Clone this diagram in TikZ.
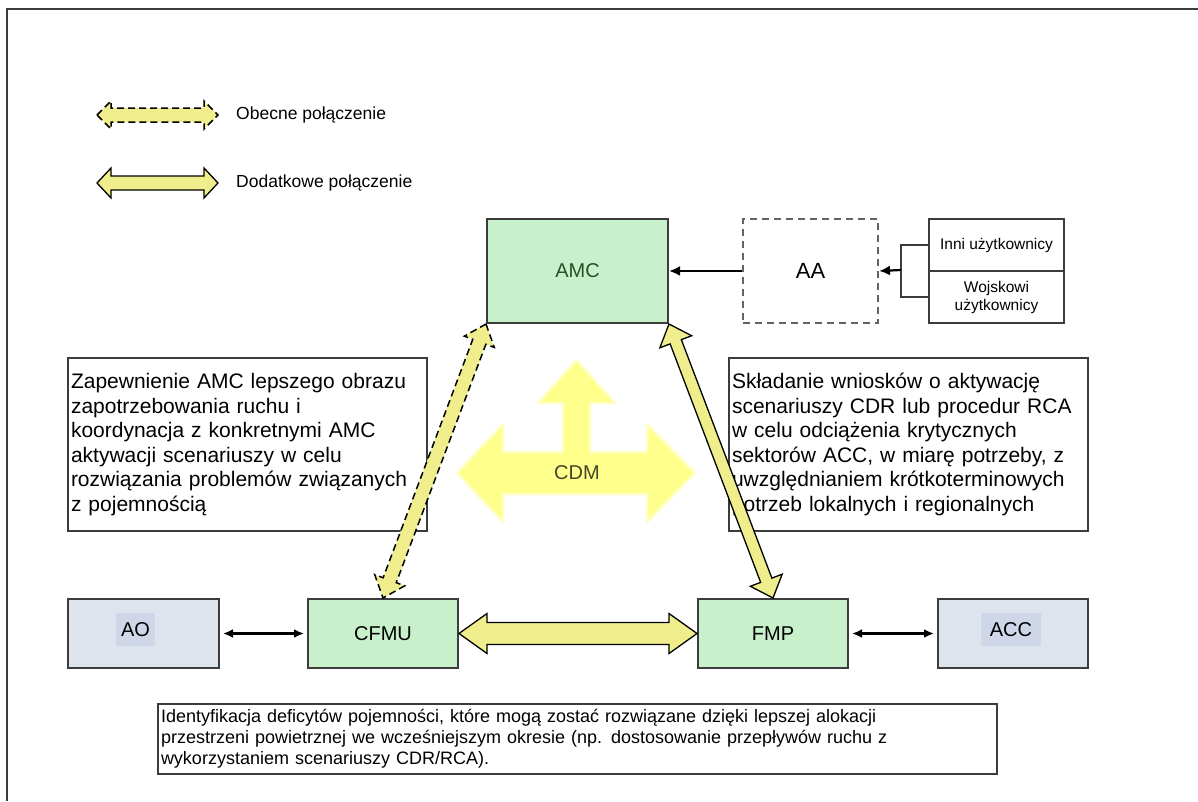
\documentclass[tikz,border=0pt]{standalone}
\usepackage{fontspec}
\setmainfont{Liberation Sans}
\usetikzlibrary{calc,arrows.meta}

\definecolor{boxgreen}{RGB}{200,240,202}
\definecolor{boxblue}{RGB}{222,228,238}
\definecolor{lblblue}{RGB}{206,214,232}
\definecolor{arrowyellow}{RGB}{240,238,140}
\definecolor{cdmyellow}{RGB}{255,255,140}
\definecolor{edgegray}{RGB}{60,60,60}
\definecolor{amctext}{RGB}{40,80,40}
\definecolor{cdmtext}{RGB}{70,70,40}

% double block arrow: #1 style, #2 from, #3 to, #4 head length, #5 shaft half width, #6 head half width
\newcommand\dblarrow[6]{%
  \draw[#1] (#2)
    -- ($(#2)!#4!(#3)!#6!90:(#3)$)
    -- ($(#2)!#4!(#3)!#5!90:(#3)$)
    -- ($(#3)!#4!(#2)!#5!-90:(#2)$)
    -- ($(#3)!#4!(#2)!#6!-90:(#2)$)
    -- (#3)
    -- ($(#3)!#4!(#2)!#6!90:(#2)$)
    -- ($(#3)!#4!(#2)!#5!90:(#2)$)
    -- ($(#2)!#4!(#3)!#5!-90:(#3)$)
    -- ($(#2)!#4!(#3)!#6!-90:(#3)$)
    -- cycle;}

\begin{document}
\begin{tikzpicture}[x=1pt,y=-1pt,
  box/.style={draw=edgegray, line width=2pt, anchor=north west, inner sep=0pt},
  gbox/.style={box, fill=boxgreen},
  bbox/.style={box, fill=boxblue},
  wbox/.style={box, fill=white},
  txtbox/.style={box, fill=white, align=left, inner xsep=3pt, font=\fontsize{21}{24.6}\selectfont},
  lbl/.style={font=\fontsize{20}{24}\selectfont},
  thinarrow/.style={draw=black, line width=2.2pt, {Latex[length=10pt,width=9pt]}-{Latex[length=10pt,width=9pt]}, shorten <=3pt, shorten >=3pt},
  onearrow/.style={draw=black, line width=2.2pt, -{Latex[length=11pt,width=10pt]}},
  solidblock/.style={draw=black, line width=1.3pt, fill=arrowyellow, line join=miter},
  dashblock/.style={draw=black, line width=1.5pt, fill=arrowyellow, dash pattern=on 7pt off 4pt},
  legendtext/.style={anchor=west, font=\fontsize{17.5}{21}\selectfont, inner sep=0pt}
]
\useasboundingbox (0,0) rectangle (1198,801);
\fill[white] (0,0) rectangle (1198,801);
% frame
\draw[draw=edgegray, line width=2pt] (7,801) -- (7,9) -- (1198,9);

% legend
\coordinate (lg1a) at (97,115);
\coordinate (lg1b) at (218,115);
\coordinate (lg2a) at (97,183);
\coordinate (lg2b) at (218,183);
\dblarrow{dashblock}{lg1a}{lg1b}{14pt}{7pt}{14pt}
\dblarrow{solidblock}{lg2a}{lg2b}{14pt}{7pt}{15pt}
\node[legendtext] (lgt1) at (236,115) {Obecne połączenie};
\node[legendtext] (lgt2) at (236,183) {Dodatkowe połączenie};

% CDM symbol
\filldraw[fill=cdmyellow, draw=cdmyellow!50!white, line width=2.5pt, line join=round]
  (457,473) -- (503,424) -- (503,452) -- (563,452) -- (563,403) -- (538,403)
  -- (576.5,360) -- (615,403) -- (590,403) -- (590,452) -- (647,452) -- (647,424)
  -- (695,473) -- (647,522) -- (647,494) -- (503,494) -- (503,522) -- cycle;
\node[font=\fontsize{20}{24}\selectfont, text=cdmtext] (cdm) at (577,473) {CDM};

% top row
\node[gbox, minimum width=181pt, minimum height=104pt, font=\fontsize{20}{24}\selectfont, text=amctext] (AMC) at (486,218) {AMC};
\node[wbox, draw=edgegray!80, dash pattern=on 7pt off 5pt, minimum width=135pt, minimum height=104pt,
  font=\fontsize{22}{26}\selectfont] (AA) at (742,218) {AA};
\node[wbox, minimum width=135pt, minimum height=52pt, font=\fontsize{15.5}{18}\selectfont] (Inni) at (928,218) {Inni użytkownicy};
\node[wbox, minimum width=135pt, minimum height=52pt, align=center, font=\fontsize{15.5}{18}\selectfont] (Woj) at (928,270)
  {Wojskowi\\użytkownicy};
\coordinate (br) at (901,270);
\draw[draw=edgegray, line width=2pt] (Inni.west) -- (Inni.west -| br) -- (Woj.west -| br) -- (Woj.west);
\draw[onearrow] (br) -- (AA.east);
\draw[onearrow] (AA.west) -- (AMC.east);

% text boxes
\node[txtbox, minimum width=359pt, minimum height=173pt, text width=353pt] (tl) at (67,357)
  {Zapewnienie AMC lepszego obrazu\\zapotrzebowania ruchu i\\koordynacja z konkretnymi AMC\\aktywacji scenariuszy w celu\\rozwiązania problemów związanych\\z pojemnością};
\node[txtbox, minimum width=359pt, minimum height=173pt, text width=353pt] (tr) at (728,357)
  {Składanie wniosków o aktywację\\scenariuszy CDR lub procedur RCA\\w celu odciążenia krytycznych\\sektorów ACC, w miarę potrzeby, z\\uwzględnianiem krótkoterminowych\\potrzeb lokalnych i regionalnych};

% bottom row
\node[bbox, minimum width=151pt, minimum height=69pt] (AO) at (67,598) {};
\node[lbl, fill=lblblue, inner sep=0pt, minimum width=39pt, minimum height=33pt] (AOl) at ($(AO.center)+(-8,-4)$) {AO};
\node[gbox, minimum width=150pt, minimum height=69pt, lbl] (CFMU) at (307,598) {CFMU};
\node[gbox, minimum width=150pt, minimum height=69pt, lbl] (FMP) at (697,598) {FMP};
\node[bbox, minimum width=150pt, minimum height=69pt] (ACC) at (937,598) {};
\node[lbl, fill=lblblue, inner sep=0pt, minimum width=60pt, minimum height=33pt] (ACCl) at ($(ACC.center)+(-2,-4)$) {ACC};

\draw[thinarrow] (AO.east) -- (CFMU.west);
\draw[thinarrow] (FMP.east) -- (ACC.west);
\dblarrow{solidblock}{CFMU.east}{FMP.west}{28pt}{11pt}{20pt}

% diagonal arrows
\dblarrow{dashblock}{AMC.south west}{CFMU.north}{19pt}{7pt}{16pt}
\dblarrow{solidblock}{AMC.south east}{FMP.north}{19pt}{6pt}{17pt}

% bottom text
\node[box, fill=white, align=left, inner xsep=3pt, minimum width=839pt, minimum height=70pt, text width=833pt,
  font=\fontsize{18}{21}\selectfont] (tb) at (157,703)
  {Identyfikacja deficytów pojemności, które mogą zostać rozwiązane dzięki lepszej alokacji\\przestrzeni powietrznej we wcześniejszym okresie (np. dostosowanie przepływów ruchu z\\wykorzystaniem scenariuszy CDR/RCA).};
\end{tikzpicture}
\end{document}
